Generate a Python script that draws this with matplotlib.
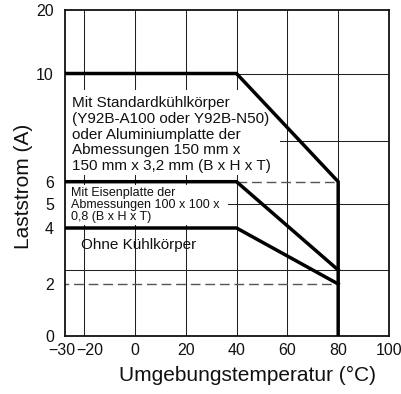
import numpy as np
import matplotlib
matplotlib.use("Agg")
import matplotlib.pyplot as plt
from matplotlib.patches import Rectangle
from matplotlib.transforms import ScaledTranslation

plt.rcParams['font.family'] = ['Liberation Sans', 'DejaVu Sans']

# ---- data ----
x_std = [-30, 40, 80, 80]
y_std = [10, 10, 6, 0]
x_iron = [-30, 40, 80]
y_iron = [6, 6, 2.5]
x_none = [-30, 40, 80]
y_none = [4, 4, 2]
dash6_x = [40, 80]
dash6_y = [6, 6]
dash2_x = [-30, 80]
dash2_y = [2, 2]

x_ticks = [-27.5, -20, 0, 20, 40, 60, 80, 100]
x_ticklabels = ['\u221230', '\u221220', '0', '20', '40', '60', '80', '100']
y_ticks = [0, 2, 4, 5, 6, 10, 20]
y_ticklabels = ['0', '2', '4', '5', '6', '10', '20']
grid_x = [-20, 0, 20, 40, 60, 80]
grid_y = [2.5, 5, 7.5, 10]

label_std = ("Mit Standardk\u00fchlk\u00f6rper\n(Y92B-A100 oder Y92B-N50)\n"
             "oder Aluminiumplatte der\nAbmessungen 150 mm x\n150 mm x 3,2 mm (B x H x T)")
label_iron = "Mit Eisenplatte der\nAbmessungen 100 x 100 x\n0,8 (B x H x T)"
label_none = "Ohne K\u00fchlk\u00f6rper"

# non-uniform vertical scale of the original chart
scale_vals = [-100, 0, 2, 4, 5, 6, 10, 20, 1000]
scale_pos = [-2600, 0, 52, 108, 132, 154.3, 262.5, 326.5, 326.5 + 980 * 6.4]

def fwd(v):
    return np.interp(v, scale_vals, scale_pos)

def inv(p):
    return np.interp(p, scale_pos, scale_vals)

fig = plt.figure(figsize=(4.01, 3.94), dpi=100)
W, H = 401, 394
L, R, T, B = 65, 389, 9.5, 336
ax = fig.add_axes([L / W, 1 - B / H, (R - L) / W, (B - T) / H])
ax.set_yscale('function', functions=(fwd, inv))
ax.set_xlim(-27.5, 100)
ax.set_ylim(0, 20)

ax.set_xticks(x_ticks)
ax.set_xticklabels(x_ticklabels)
ax.set_yticks(y_ticks)
ax.set_yticklabels(y_ticklabels)
ax.tick_params(which='both', length=0, labelsize=11.5, colors='#111111')
ax.tick_params(axis='x', pad=5)
ax.tick_params(axis='y', pad=8)
for s in ax.spines.values():
    s.set_linewidth(1.3)
    s.set_color('#111111')

# shift the crowded first two x tick labels apart
xl = ax.get_xticklabels()
xl[0].set_transform(xl[0].get_transform() + ScaledTranslation(-3 / 100, 0, fig.dpi_scale_trans))
xl[1].set_transform(xl[1].get_transform() + ScaledTranslation(6 / 100, 0, fig.dpi_scale_trans))

# grid
for gx in grid_x:
    ax.axvline(gx, color='#222222', linewidth=0.75, zorder=1)
for gy in grid_y:
    ax.axhline(gy, color='#222222', linewidth=0.75, zorder=1)

# white label panels
ax.add_patch(Rectangle((0, 0.493), 0.664, 0.260, transform=ax.transAxes,
                       facecolor='white', edgecolor='none', zorder=1.5))
ax.add_patch(Rectangle((0, 0.340), 0.503, 0.123, transform=ax.transAxes,
                       facecolor='white', edgecolor='none', zorder=1.5))

lw = 2.5
ax.plot(x_std, y_std, color='black', lw=lw, zorder=3, solid_joinstyle='miter')
ax.plot(x_iron, y_iron, color='black', lw=lw, zorder=3)
ax.plot(x_none, y_none, color='black', lw=lw, zorder=3)
ax.plot(dash6_x, dash6_y, color='#555555', lw=1.0, ls=(0, (7, 3.5)), zorder=2)
ax.plot(dash2_x, dash2_y, color='#555555', lw=1.0, ls=(0, (7, 3.5)), zorder=2)

ax.text(0.0216, 0.617, label_std, transform=ax.transAxes, fontsize=11,
        va='center', ha='left', linespacing=1.14, color='#111111', zorder=4)
ax.text(0.0185, 0.401, label_iron, transform=ax.transAxes, fontsize=9,
        va='center', ha='left', linespacing=1.0, color='#111111', zorder=4)
ax.text(0.049, 0.279, label_none, transform=ax.transAxes, fontsize=11,
        va='center', ha='left', color='#111111', zorder=4)

ax.set_xlabel('Umgebungstemperatur (\u00b0C)', fontsize=15, color='#111111')
ax.xaxis.set_label_coords(0.562, -0.093)
ax.set_ylabel('Laststrom (A)', fontsize=15, color='#111111', va='center')
ax.yaxis.set_label_coords(-0.128, 0.459)

fig.savefig('out.png', dpi=100)
